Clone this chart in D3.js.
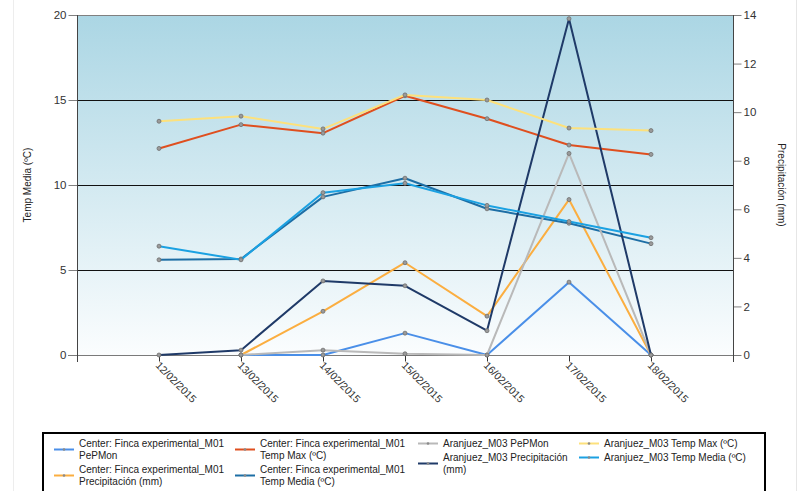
<!DOCTYPE html>
<html><head><meta charset="utf-8">
<script src="https://cdn.jsdelivr.net/npm/d3@7"></script>
<style>body{margin:0;background:#fff}svg{display:block;font-family:"Liberation Sans",Arial,sans-serif}</style>
</head><body><svg id="c" width="798" height="491"></svg>
<script>
// ---- data ----
const dates = ["12/02/2015","13/02/2015","14/02/2015","15/02/2015","16/02/2015","17/02/2015","18/02/2015"];
const leftTicks = [0,5,10,15,20];
const rightTicks = [0,2,4,6,8,10,12,14];
const centerPePMon      = [null, 0, 0, 0.9, 0, 3.0, 0];
const centerPrecip      = [null, 0, 1.8, 3.8, 1.6, 6.4, 0];
const centerTempMax     = [12.15, 13.55, 13.05, 15.25, 13.9, 12.35, 11.8];
const centerTempMedia   = [5.6, 5.65, 9.3, 10.4, 8.6, 7.75, 6.55];
const aranjuezPePMon    = [null, 0, 0.2, 0.05, 0, 8.3, 0];
const aranjuezPrecip    = [0, 0.2, 3.05, 2.85, 1.0, 13.85, 0];
const aranjuezTempMax   = [13.75, 14.05, 13.3, 15.3, 15.0, 13.35, 13.2];
const aranjuezTempMedia = [6.4, 5.6, 9.55, 10.1, 8.8, 7.85, 6.9];
const seriesNames = [
  "Center: Finca experimental_M01 PePMon",
  "Center: Finca experimental_M01 Precipitación (mm)",
  "Center: Finca experimental_M01 Temp Max (ºC)",
  "Center: Finca experimental_M01 Temp Media (ºC)",
  "Aranjuez_M03 PePMon",
  "Aranjuez_M03 Precipitación (mm)",
  "Aranjuez_M03 Temp Max (ºC)",
  "Aranjuez_M03 Temp Media (ºC)"
];
const leftTitle = "Temp Media (ºC)";
const rightTitle = "Precipitación (mm)";

// ---- config built from data ----
const colors = ["#4a8fe8","#fbae40","#df4f1f","#1d6ea5","#b9b9b9","#1f3a68","#fde17c","#1ba1e2"];
const axisOf = ["r","r","l","l","r","r","l","l"];
const valuesOf = [centerPePMon, centerPrecip, centerTempMax, centerTempMedia, aranjuezPePMon, aranjuezPrecip, aranjuezTempMax, aranjuezTempMedia];
const series = seriesNames.map((n,i)=>({name:n, values:valuesOf[i], color:colors[i], axis:axisOf[i]}));

const svg = d3.select("#c");
const L = 77, R = 733, T = 15, B = 355;

// outer faint frame lines
svg.append("line").attr("x1",13.5).attr("x2",13.5).attr("y1",0).attr("y2",491).attr("stroke","#ededed");
svg.append("line").attr("x1",796.5).attr("x2",796.5).attr("y1",0).attr("y2",491).attr("stroke","#e6e6e6");

const x = d3.scalePoint().domain(dates).range([L, R]).padding(1);
const yL = d3.scaleLinear().domain([0,20]).range([B, T]);
const yR = d3.scaleLinear().domain([0,14]).range([B, T]);

// background gradient
const defs = svg.append("defs");
const g = defs.append("linearGradient").attr("id","bg").attr("x1",0).attr("x2",0).attr("y1",0).attr("y2",1);
g.append("stop").attr("offset","0%").attr("stop-color","#abd6e4");
g.append("stop").attr("offset","100%").attr("stop-color","#fbfdfe");
svg.append("rect").attr("x",L).attr("y",T).attr("width",R-L).attr("height",B-T).attr("fill","url(#bg)");

// gridlines
svg.append("g").selectAll("line").data(leftTicks.filter(v=>v>0 && v<20)).join("line")
  .attr("x1",L).attr("x2",R).attr("y1",d=>Math.round(yL(d))+0.5).attr("y2",d=>Math.round(yL(d))+0.5)
  .attr("stroke","#111").attr("stroke-width",1);
svg.append("line").attr("x1",L).attr("x2",R).attr("y1",T+0.5).attr("y2",T+0.5).attr("stroke","#808080");

// left axis
const ax = svg.append("g").attr("transform",`translate(${L+0.5},0)`)
  .call(d3.axisLeft(yL).tickValues(leftTicks).tickSize(9).tickPadding(2).tickSizeOuter(0));
ax.select(".domain").remove();
ax.selectAll(".tick line").attr("stroke","#808080");
ax.selectAll(".tick text").attr("fill","#333").style("font-size","11.5px").style("font-family","'Liberation Sans',Arial,sans-serif");
// right axis
const axr = svg.append("g").attr("transform",`translate(${R+0.5},0)`)
  .call(d3.axisRight(yR).tickValues(rightTicks).tickSize(8).tickPadding(2).tickSizeOuter(0));
axr.select(".domain").remove();
axr.selectAll(".tick line").attr("stroke","#808080");
axr.selectAll(".tick text").attr("fill","#333").style("font-size","11.5px").style("font-family","'Liberation Sans',Arial,sans-serif");

// bottom axis
const axb = svg.append("g").attr("transform",`translate(0,${B+0.5})`)
  .call(d3.axisBottom(x).tickSize(6).tickSizeOuter(0));
axb.select(".domain").remove();
axb.selectAll(".tick line").attr("stroke","#333");
axb.selectAll(".tick text")
  .attr("text-anchor","start").attr("fill","#333")
  .style("font-size","10.5px").style("font-family","'Liberation Sans',Arial,sans-serif")
  .attr("transform","translate(-2,8) rotate(45)").attr("x",0).attr("y",0).attr("dy","0.35em");

svg.append("line").attr("x1",L-9).attr("x2",R+8).attr("y1",B+0.5).attr("y2",B+0.5).attr("stroke","#7a7a7a");
svg.append("line").attr("x1",L+0.5).attr("x2",L+0.5).attr("y1",T).attr("y2",B+7).attr("stroke","#444");
svg.append("line").attr("x1",R+0.5).attr("x2",R+0.5).attr("y1",T).attr("y2",B+7).attr("stroke","#444");

// axis titles
svg.append("text").attr("transform",`translate(31,185) rotate(-90)`).attr("text-anchor","middle")
  .style("font-size","10px").attr("fill","#222").text(leftTitle);
svg.append("text").attr("transform",`translate(778,185) rotate(90)`).attr("text-anchor","middle")
  .style("font-size","10px").attr("fill","#222").text(rightTitle);

// lines
const lineL = d3.line().defined(d=>d!=null).x((d,i)=>x(dates[i])).y(d=>yL(d));
const lineR = d3.line().defined(d=>d!=null).x((d,i)=>x(dates[i])).y(d=>yR(d));
const sg = svg.append("g");
series.forEach(s=>{
  const gen = s.axis==="l" ? lineL : lineR;
  const y = s.axis==="l" ? yL : yR;
  sg.append("path").datum(s.values).attr("d", gen).attr("fill","none")
    .attr("stroke", s.color).attr("stroke-width",2).attr("stroke-linejoin","round");
  sg.append("g").selectAll("circle").data(s.values.map((v,i)=>({v,i})).filter(d=>d.v!=null)).join("circle")
    .attr("cx",d=>x(dates[d.i])).attr("cy",d=>y(d.v)).attr("r",2)
    .attr("fill","#9a9a9a").attr("stroke","#6e6e6e").attr("stroke-width",0.8);
});

// legend
svg.append("rect").attr("x",43).attr("y",433).attr("width",722).attr("height",70)
  .attr("fill","#fff").attr("stroke","#000").attr("stroke-width",2);
const colX = [54, 235, 418, 579];
const wrapW = [153, 155, 134, 175];
const lh = 12.5;
const lg = svg.append("g").style("font-size","10px");
function wrap(text, w){
  const tmp = lg.append("text");
  const words = text.split(" ");
  const lines = []; let cur = "";
  words.forEach(wd=>{
    const t = cur ? cur + " " + wd : wd;
    tmp.text(t);
    if (tmp.node().getComputedTextLength() > w && cur){ lines.push(cur); cur = wd; }
    else cur = t;
  });
  lines.push(cur); tmp.remove();
  return lines;
}
for (let c=0;c<4;c++){
  let top = 437;
  for (let r=0;r<2;r++){
    const s = series[c*2+r];
    const lines = wrap(s.name, wrapW[c]);
    const h = Math.max(14, lines.length*lh + 1);
    const sy = top + h/2 - 0.5;
    lg.append("line").attr("x1",colX[c]).attr("x2",colX[c]+20).attr("y1",sy).attr("y2",sy)
      .attr("stroke",s.color).attr("stroke-width",2);
    lg.append("circle").attr("cx",colX[c]+10).attr("cy",sy).attr("r",1.3).attr("fill","#8a8a8a");
    const t = lg.append("text").attr("fill","#222");
    lines.forEach((ln,k)=>{
      t.append("tspan").attr("x",colX[c]+25).attr("y",top + 6 + k*lh).attr("dy","0.35em").text(ln);
    });
    top += h;
  }
}
</script></body></html>
